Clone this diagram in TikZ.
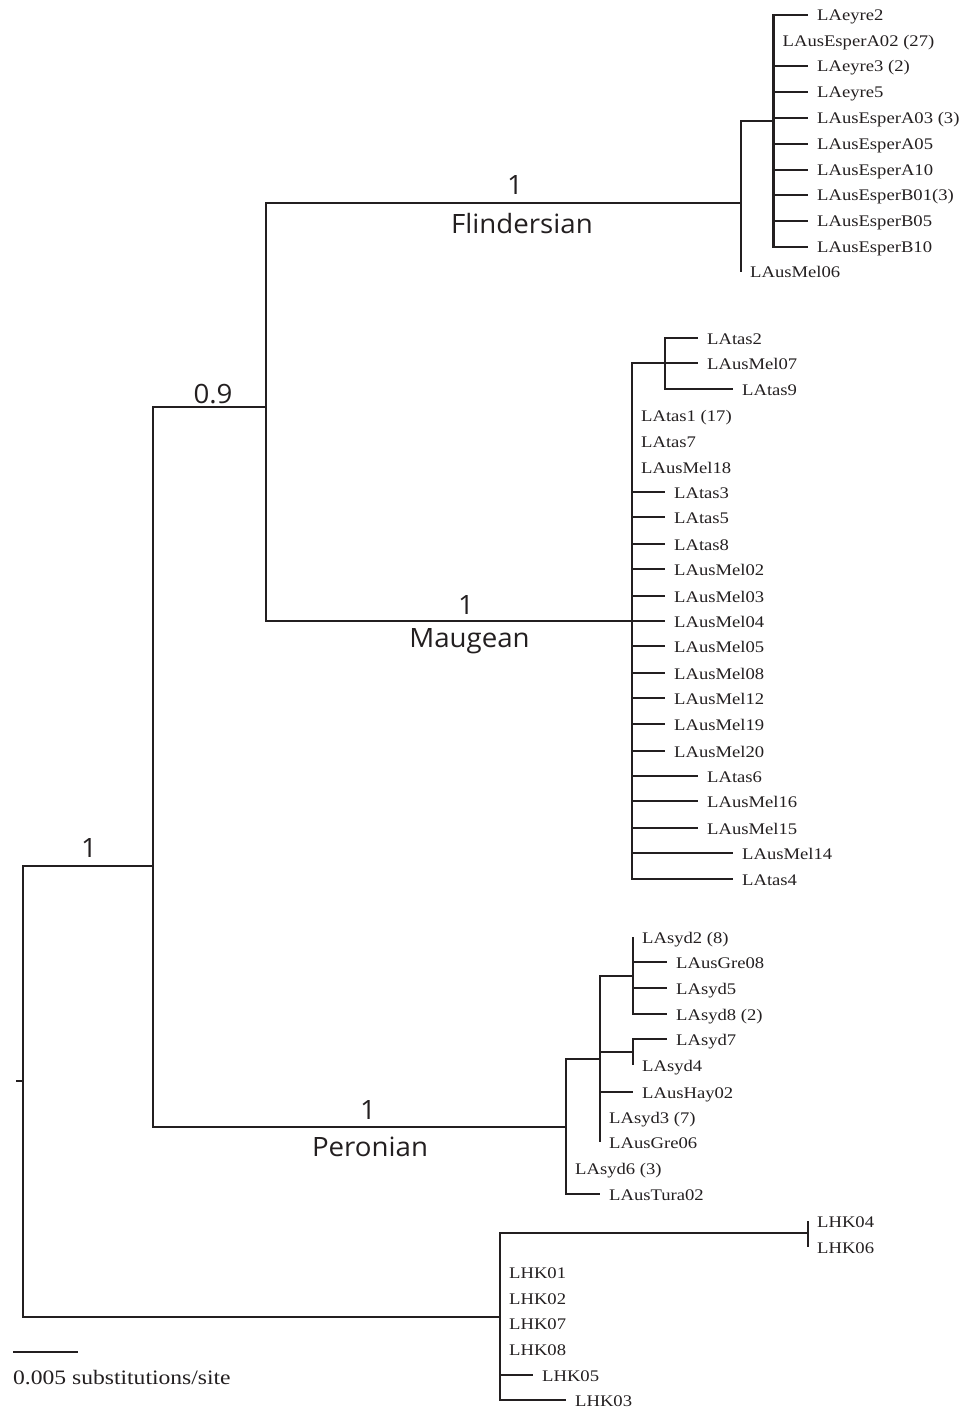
\documentclass[tikz,border=0pt]{standalone}
\usepackage{fontspec}
\setmainfont{Liberation Serif}
\newfontfamily\cladefont{Open Sans}
\definecolor{ink}{HTML}{231F20}
\tikzset{
  backbone/.style={draw=ink, line width=2.1pt},
  clade/.style={draw=ink, line width=2.8pt},
  tip/.style={anchor=base west, inner sep=0pt, text=ink, font=\fontsize{16.2}{18}\selectfont},
  support/.style={anchor=base, inner sep=0pt, text=ink, font=\cladefont\fontsize{26.6}{30}\selectfont},
  scalelab/.style={anchor=base west, inner sep=0pt, text=ink, font=\fontsize{20.5}{22}\selectfont},
}
\newcommand\tipleaf[5]{%
  \coordinate (#1) at (#3,#4);
  \draw[clade] (#2) |- (#1);
  \node[tip] (#1-lab) at ({#3+9},{#4+6}) {\scalebox{1.15}[1]{#5}};
}
\newcommand\supp[4]{\node[support] (#1) at (#2,#3) {\scalebox{1.04}[1]{#4}};}
\begin{document}
\begin{tikzpicture}[x=1pt,y=-1pt]
\useasboundingbox (0,0) rectangle (963,1412);
% internal nodes
\coordinate (stub) at (16,1081);
\coordinate (root) at (23,1081);
\coordinate (A) at (153,866);
\coordinate (B) at (266,407);
\coordinate (F0) at (741,203);
\coordinate (F1) at (773.5,121);
\coordinate (M0) at (632,621);
\coordinate (M1) at (665,363);
\coordinate (P0) at (566,1127);
\coordinate (P1) at (600,1059);
\coordinate (P2) at (633,976);
\coordinate (P3) at (633,1052);
\coordinate (H0) at (500,1317);
\coordinate (H1) at (808,1233);
% backbone
\draw[backbone] (stub) -- (root);
\draw[backbone] (root) |- (A);
\draw[backbone] (root) |- (H0);
\draw[backbone] (A) |- (B);
\draw[backbone] (A) |- (P0);
\draw[backbone] (B) |- (F0);
\draw[backbone] (B) |- (M0);
% Flindersian
\draw[clade] (F0) |- (F1);
\tipleaf{f1}{F1}{808}{15}{LAeyre2}
\tipleaf{f2}{F1}{773.5}{41}{LAusEsperA02 (27)}
\tipleaf{f3}{F1}{808}{66}{LAeyre3 (2)}
\tipleaf{f4}{F1}{808}{92}{LAeyre5}
\tipleaf{f5}{F1}{808}{118}{LAusEsperA03 (3)}
\tipleaf{f6}{F1}{808}{144}{LAusEsperA05}
\tipleaf{f7}{F1}{808}{170}{LAusEsperA10}
\tipleaf{f8}{F1}{808}{195}{LAusEsperB01(3)}
\tipleaf{f9}{F1}{808}{221}{LAusEsperB05}
\tipleaf{f10}{F1}{808}{247}{LAusEsperB10}
\tipleaf{f11}{F0}{741}{272}{LAusMel06}
% Maugean
\draw[clade] (M0) |- (M1);
\tipleaf{m1}{M1}{698}{338}{LAtas2}
\tipleaf{m2}{M1}{698}{363}{LAusMel07}
\tipleaf{m3}{M1}{733}{389}{LAtas9}
\tipleaf{m4}{M0}{632}{415}{LAtas1 (17)}
\tipleaf{m5}{M0}{632}{441}{LAtas7}
\tipleaf{m6}{M0}{632}{467}{LAusMel18}
\tipleaf{m7}{M0}{665}{492}{LAtas3}
\tipleaf{m8}{M0}{665}{517}{LAtas5}
\tipleaf{m9}{M0}{665}{544}{LAtas8}
\tipleaf{m10}{M0}{665}{569}{LAusMel02}
\tipleaf{m11}{M0}{665}{596}{LAusMel03}
\tipleaf{m12}{M0}{665}{621}{LAusMel04}
\tipleaf{m13}{M0}{665}{646}{LAusMel05}
\tipleaf{m14}{M0}{665}{673}{LAusMel08}
\tipleaf{m15}{M0}{665}{698}{LAusMel12}
\tipleaf{m16}{M0}{665}{724}{LAusMel19}
\tipleaf{m17}{M0}{665}{751}{LAusMel20}
\tipleaf{m18}{M0}{698}{776}{LAtas6}
\tipleaf{m19}{M0}{698}{801}{LAusMel16}
\tipleaf{m20}{M0}{698}{828}{LAusMel15}
\tipleaf{m21}{M0}{733}{853}{LAusMel14}
\tipleaf{m22}{M0}{733}{879}{LAtas4}
% Peronian
\draw[clade] (P0) |- (P1);
\draw[clade] (P1) |- (P2);
\draw[clade] (P1) |- (P3);
\tipleaf{p1}{P2}{633}{937}{LAsyd2 (8)}
\tipleaf{p2}{P2}{667}{962}{LAusGre08}
\tipleaf{p3}{P2}{667}{988}{LAsyd5}
\tipleaf{p4}{P2}{667}{1014}{LAsyd8 (2)}
\tipleaf{p5}{P3}{667}{1039}{LAsyd7}
\tipleaf{p6}{P3}{633}{1065}{LAsyd4}
\tipleaf{p7}{P1}{633}{1092}{LAusHay02}
\tipleaf{p8}{P1}{600}{1117}{LAsyd3 (7)}
\tipleaf{p9}{P1}{600}{1142}{LAusGre06}
\tipleaf{p10}{P0}{566}{1168}{LAsyd6 (3)}
\tipleaf{p11}{P0}{600}{1194}{LAusTura02}
% LHK
\draw[clade] (H0) |- (H1);
\tipleaf{h1}{H1}{808}{1221}{LHK04}
\tipleaf{h2}{H1}{808}{1247}{LHK06}
\tipleaf{h3}{H0}{500}{1272}{LHK01}
\tipleaf{h4}{H0}{500}{1298}{LHK02}
\tipleaf{h5}{H0}{500}{1323}{LHK07}
\tipleaf{h6}{H0}{500}{1349}{LHK08}
\tipleaf{h7}{H0}{533}{1375}{LHK05}
\tipleaf{h8}{H0}{566}{1400}{LHK03}
% support values and clade names
\supp{sF}{515}{195}{1}
\supp{nF}{522}{234}{Flindersian}
\supp{sB}{213}{403}{0.9}
\supp{sM}{466}{614}{1}
\supp{nM}{469.5}{647}{Maugean}
\supp{sP}{368}{1119}{1}
\supp{nP}{370}{1156}{Peronian}
\supp{sA}{89}{857}{1}
% scale bar
\coordinate (sb1) at (13,1352);
\coordinate (sb2) at (78,1352);
\draw[clade] (sb1) -- (sb2);
\node[scalelab] (sbl) at (13,1384) {\scalebox{1.15}[1]{0.005 substitutions/site}};
\end{tikzpicture}
\end{document}
